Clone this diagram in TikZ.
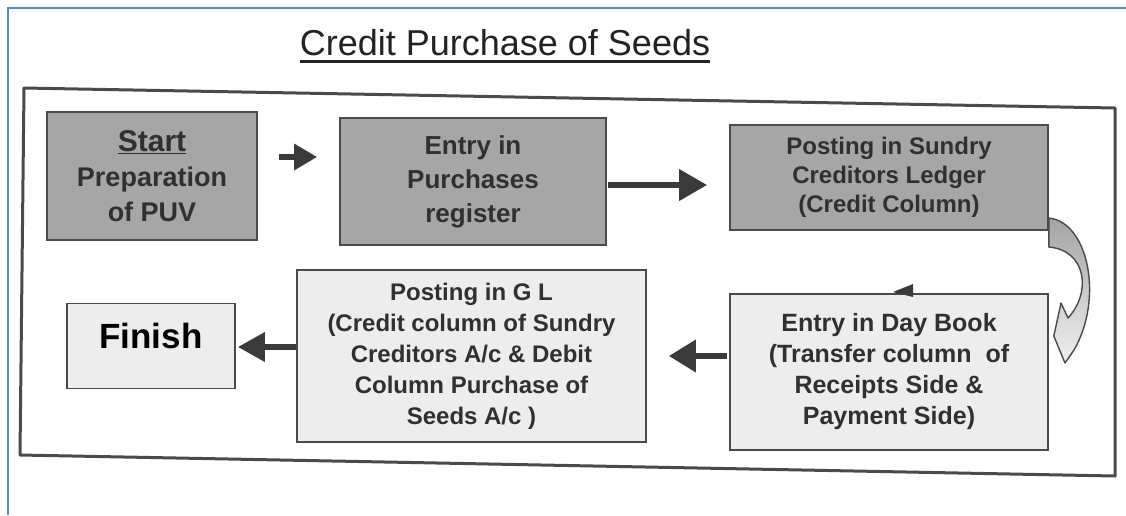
\documentclass[tikz,border=0pt]{standalone}
\usepackage{fontspec}
\setmainfont{Liberation Sans}
\usetikzlibrary{arrows.meta,calc}
\definecolor{darkfill}{HTML}{A6A6A6}
\definecolor{lightfill}{HTML}{EDEDED}
\definecolor{boxline}{HTML}{4A4A4A}
\definecolor{boxtext}{HTML}{303030}
\definecolor{arrcol}{HTML}{3A3A3A}
\definecolor{bluecol}{HTML}{5B87C8}
\definecolor{titlecol}{HTML}{222222}
\begin{document}
\begin{tikzpicture}[x=1pt,y=-1pt,
  darkbox/.style={draw=boxline, fill=darkfill, line width=1.6pt, text=boxtext, align=center, inner sep=0pt},
  lightbox/.style={draw=boxline, fill=lightfill, line width=1.6pt, text=boxtext, align=center, inner sep=0pt},
  arr/.style={draw=arrcol, line width=6.5pt},
]
\useasboundingbox (0,0) rectangle (1126,515);
\fill[white] (0,0) rectangle (1126,515);
% screenshot frame
\draw[bluecol, line width=2pt] (8,515) -- (8,8) -- (1126,8);
% title
\node[inner sep=0pt, text=titlecol, font=\fontsize{36}{40}\selectfont] (title) at (505,43) {Credit Purchase of Seeds};
\draw[titlecol, line width=3pt] ($(title.south west)+(0,5)$) -- ($(title.south east)+(0,5)$);
% outer frame
\draw[boxline, line width=3pt, line join=round] (24,88) -- (1115,108) -- (1115,476) -- (20,455) -- cycle;
% boxes
\node[darkbox, minimum width=210pt, minimum height=128pt, font=\bfseries\fontsize{27}{35}\selectfont] (start) at (152,176)
  {{\fontsize{30}{35}\selectfont\underline{Start}}\\Preparation\\of PUV};
\node[darkbox, minimum width=266pt, minimum height=127pt, font=\bfseries\fontsize{26}{34}\selectfont] (purch) at (473,181.5)
  {Entry in\\Purchases\\register};
\node[darkbox, minimum width=318pt, minimum height=105pt, font=\bfseries\fontsize{24}{29}\selectfont] (post) at (889,177.5)
  {Posting in Sundry\\Creditors Ledger\\(Credit Column)};
\node[lightbox, minimum width=168pt, minimum height=85pt, text=black, text depth=20pt, font=\bfseries\fontsize{35}{40}\selectfont] (finish) at (151,346)
  {Finish};
\node[lightbox, minimum width=349pt, minimum height=172pt, font=\bfseries\fontsize{24}{31}\selectfont] (gl) at (471.5,356)
  {Posting in G L\\(Credit column of Sundry\\Creditors A/c \& Debit\\Column Purchase of\\Seeds A/c )};
\node[lightbox, minimum width=318pt, minimum height=156pt, font=\bfseries\fontsize{25}{31}\selectfont] (day) at (889,372)
  {Entry in Day Book\\(Transfer column\ \ of\\Receipts Side \&\\Payment Side)};
% straight arrows
\draw[arr, -{Triangle[length=23pt,width=25pt]}] ($(start.east)+(21,-19)$) -- ($(purch.west)+(-22,-24.5)$);
\draw[arr, -{Triangle[length=28pt,width=30pt]}] ($(purch.east)+(1,3.5)$) -- ($(post.west)+(-22,7.5)$);
\draw[arr, -{Triangle[length=27pt,width=31pt]}] ($(day.west)+(-2,-16)$) -- ($(gl.east)+(22,0)$);
\draw[arr, -{Triangle[length=27pt,width=28pt]}] ($(gl.west)+(0,-9)$) -- ($(finish.east)+(2,1)$);
% curved block arrow from ledger posting to day book
\coordinate (c1) at ($(post.east)+(0,40.5)$);
\coordinate (c2) at ($(post.east)+(0,69.5)$);
\coordinate (tip) at ($(day.east)+(5,-36)$);
\path[draw=boxline, line width=1.4pt, line join=round, top color=gray!72, bottom color=gray!12]
  (c1) .. controls (1088,222) and (1104,298) .. (1074,350)
  -- (1065,363) -- (tip) -- (1061,303) -- (1068,318)
  .. controls (1092,292) and (1086,250) .. (c2) -- cycle;
% small mark above the day book box
\fill[arrcol] (893,292) -- (913,284) -- (913,297) -- cycle;
\end{tikzpicture}
\end{document}
